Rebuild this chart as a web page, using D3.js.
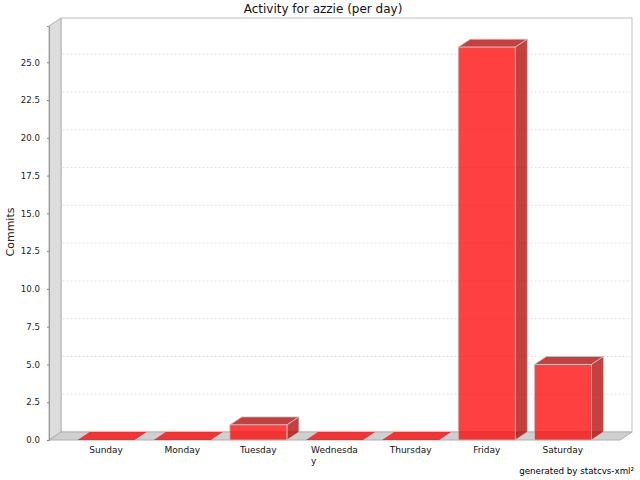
<!DOCTYPE html>
<html><head><meta charset="utf-8">
<script src="https://cdn.jsdelivr.net/npm/d3@7"></script>
<style>body{margin:0;background:#fff}svg{display:block}</style>
</head><body>
<svg id="c" width="640" height="480"></svg>
<script>
const categories = ["Sunday","Monday","Tuesday","Wednesday","Thursday","Friday","Saturday"];
const categoryLabels = [["Sunday"],["Monday"],["Tuesday"],["Wednesda","y"],["Thursday"],["Friday"],["Saturday"]];
const commits = [0,0,1,0,0,26,5];
const yTicks = [0,2.5,5,7.5,10,12.5,15,17.5,20,22.5,25];
const title = "Activity for azzie (per day)";
const yTitle = "Commits";
const footer = "generated by statcvs-xml\u00b2";

(function(){
const svg = d3.select("#c");
const F = "DejaVu Sans, sans-serif";
const pLeft = 49, pRight = 620, pTop = 26, pBottom = 440, dx = 12, dy = 8;

const x = d3.scaleBand().domain(categories).range([pLeft, pRight]).paddingInner(0.25).paddingOuter(0.375);
const y = d3.scaleLinear().domain([0, 27.4]).range([pBottom, pTop]);

// back wall
svg.append("rect").attr("x", pLeft+dx).attr("y", pTop-dy).attr("width", pRight-pLeft).attr("height", pBottom-pTop)
  .attr("fill", "#fff").attr("stroke", "#c0c0c0").attr("stroke-width", 1);
// left wall
svg.append("polygon").attr("points", [[pLeft,pTop],[pLeft+dx,pTop-dy],[pLeft+dx,pBottom-dy],[pLeft,pBottom]].join(" "))
  .attr("fill", "#dddddd").attr("stroke", "#b0b0b0").attr("stroke-width", 1);
// floor
svg.append("polygon").attr("points", [[pLeft,pBottom],[pLeft+dx,pBottom-dy],[pRight+dx,pBottom-dy],[pRight,pBottom]].join(" "))
  .attr("fill", "#d0d0d0").attr("stroke", "#b0b0b0").attr("stroke-width", 1);

// gridlines
svg.append("g").selectAll("path").data(yTicks.filter(d => d > 0)).join("path")
  .attr("d", d => `M${pLeft},${y(d)}L${pLeft+dx},${y(d)-dy}L${pRight+dx},${y(d)-dy}`)
  .attr("fill", "none").attr("stroke", "#dadada").attr("stroke-width", 0.8).attr("stroke-dasharray", "2,2");

// y axis
const yAxis = d3.axisLeft(y).tickValues(yTicks).tickFormat(d3.format(".1f")).tickSize(2).tickPadding(7);
const ya = svg.append("g").attr("transform", `translate(${pLeft},0)`).call(yAxis);
ya.select(".domain").attr("stroke", "#999");
ya.selectAll(".tick line").attr("stroke", "#888");
ya.selectAll(".tick text").attr("font-family", F).attr("font-size", 8.6).attr("fill", "#222");

// bars
const bars = svg.append("g").selectAll("g").data(categories.map((c,i) => ({c, v: commits[i]}))).join("g");
bars.each(function(d) {
  const g = d3.select(this);
  const x0 = x(d.c), x1 = x0 + x.bandwidth();
  const yt = y(d.v), yb = y(0);
  const front = "rgba(255,0,0,0.75)", dark = "rgba(180,0,0,0.75)";
  g.append("polygon").attr("points", [[x0,yt],[x0+dx,yt-dy],[x1+dx,yt-dy],[x1,yt]].join(" "))
    .attr("fill", d.v === 0 ? front : dark).attr("stroke", d.v === 0 ? "none" : "#c8c8c8").attr("stroke-width", 0.8);
  if (d.v > 0) {
    g.append("polygon").attr("points", [[x1,yt],[x1+dx,yt-dy],[x1+dx,yb-dy],[x1,yb]].join(" "))
      .attr("fill", dark).attr("stroke", "#c8c8c8").attr("stroke-width", 0.8);
    g.append("rect").attr("x", x0).attr("y", yt).attr("width", x1-x0).attr("height", yb-yt)
      .attr("fill", front).attr("stroke", "#c8c8c8").attr("stroke-width", 0.8);
  }
});

// category labels
const cl = svg.append("g");
categories.forEach((c, i) => {
  const cx = x(c) + x.bandwidth()/2;
  const lines = categoryLabels[i];
  const t = cl.append("text").attr("font-family", F).attr("font-size", 9).attr("fill", "#111");
  lines.forEach((ln, j) => t.append("tspan").attr("y", 453 + j*11).text(ln));
  const w = d3.max(t.selectAll("tspan").nodes(), n => n.getComputedTextLength());
  t.selectAll("tspan").attr("x", cx - w/2);
});

svg.append("text").attr("x", 323).attr("y", 13).attr("text-anchor", "middle")
  .attr("font-family", F).attr("font-size", 12).attr("fill", "#111").text(title);
svg.append("text").attr("transform", `translate(14,232) rotate(-90)`).attr("text-anchor", "middle")
  .attr("font-family", F).attr("font-size", 11).attr("fill", "#222").text(yTitle);
svg.append("text").attr("x", 634).attr("y", 474).attr("text-anchor", "end")
  .attr("font-family", F).attr("font-size", 8.7).attr("fill", "#000").text(footer);
})();
</script>
</body></html>
